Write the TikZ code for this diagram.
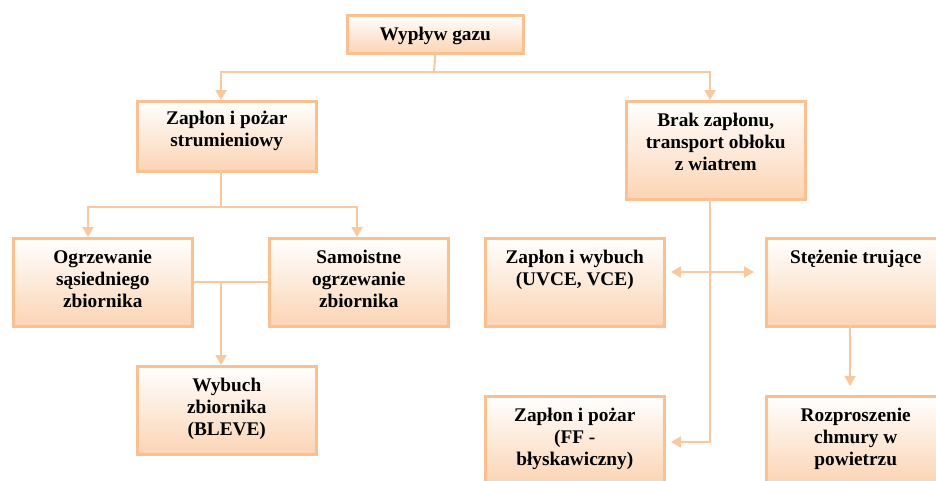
\documentclass[tikz,border=0pt]{standalone}
\usepackage{fontspec}
\setmainfont{Liberation Serif}
\usetikzlibrary{arrows.meta}
\definecolor{peach}{RGB}{250,192,143}
\definecolor{peachline}{RGB}{250,200,158}
\definecolor{peachfill}{RGB}{251,212,180}
\begin{document}
\begin{tikzpicture}[x=1pt,y=-1pt,
  box/.style={draw=peach, line width=2.5pt, shading=axis, top color=white, bottom color=peachfill,
    minimum width=179pt, anchor=north west, inner sep=0pt},
  txt/.style={anchor=north, align=center, inner sep=0pt, font=\fontsize{19.3}{22}\selectfont\bfseries},
  conn/.style={draw=peachline, line width=2pt},
  tipa/.tip={Triangle[length=10pt,width=11pt]},
  arr/.style={conn, -tipa},
  darr/.style={conn, tipa-tipa},
]
\useasboundingbox (0,0) rectangle (936,480);
\clip (0,0) rectangle (936,480);

% boxes
\node[box, minimum width=176pt, minimum height=38pt] (wyp) at (346,14) {};
\node[box, minimum height=70pt] (zap1) at (136,100) {};
\node[box, minimum height=98pt] (brak) at (625,100) {};
\node[box, minimum height=88pt] (ogrz) at (12,237) {};
\node[box, minimum height=88pt] (samo) at (268,237) {};
\node[box, minimum height=88pt] (wyb) at (136,365) {};
\node[box, minimum height=88pt] (uvce) at (484,237) {};
\node[box, minimum height=88pt] (stez) at (765,237) {};
\node[box, minimum height=88pt] (ff) at (484,395) {};
\node[box, minimum height=88pt] (roz) at (765,395) {};

% texts
\newcommand{\fl}{\rule{0pt}{15pt}}
\node[txt] (twyp) at ([yshift=-11.5pt]wyp.north) {\fl Wypływ gazu};
\node[txt] (tzap1) at ([yshift=-9.5pt]zap1.north) {\fl Zapłon i pożar\\strumieniowy};
\node[txt] (tbrak) at ([yshift=-11.5pt]brak.north) {\fl Brak zapłonu,\\transport obłoku\\z wiatrem};
\node[txt] (togrz) at ([yshift=-11.5pt]ogrz.north) {\fl Ogrzewanie\\sąsiedniego\\zbiornika};
\node[txt] (tsamo) at ([yshift=-11.5pt]samo.north) {\fl Samoistne\\ogrzewanie\\zbiornika};
\node[txt] (twyb) at ([yshift=-11.5pt]wyb.north) {\fl Wybuch\\zbiornika\\(BLEVE)};
\node[txt] (tuvce) at ([yshift=-11.5pt]uvce.north) {\fl Zapłon i wybuch\\(UVCE, VCE)};
\node[txt] (tstez) at ([yshift=-11.5pt]stez.north) {\fl Stężenie trujące};
\node[txt] (tff) at ([yshift=-11.5pt]ff.north) {\fl Zapłon i pożar\\(FF -\\błyskawiczny)};
\node[txt] (troz) at ([yshift=-11.5pt]roz.north) {\fl Rozproszenie\\chmury w\\powietrzu};

% junction coordinates
\coordinate (w0) at (434,72);
\coordinate (zt) at (221,100);
\coordinate (bt) at (710,100);
\coordinate (zb) at (221,170);
\coordinate (z0) at (221,207);
\coordinate (ot) at (88,237);
\coordinate (st) at (357,237);
\coordinate (m0) at (221,281);
\coordinate (wt) at (221,365);
\coordinate (bb) at (710,198);
\coordinate (b1) at (710,442);
\coordinate (fe) at (671,442);
\coordinate (d1) at (671,272);
\coordinate (d2) at (754,272);
\coordinate (sb) at (850,325);
\coordinate (rt) at (850,386);

% connectors
\draw[conn] (wyp.south) -- (w0);
\draw[arr] (w0) -| (zt);
\draw[arr] (w0) -| (bt);
\draw[conn] (zb) -- (z0);
\draw[arr] (z0) -| (ot);
\draw[arr] (z0) -| (st);
\draw[conn] (ogrz.east) -- (samo.west);
\draw[arr] (m0) -- (wt);
\draw[arr] (bb) -- (b1) -- (fe);
\draw[darr] (d1) -- (d2);
\draw[arr] (sb) -- (rt);
\end{tikzpicture}
\end{document}
